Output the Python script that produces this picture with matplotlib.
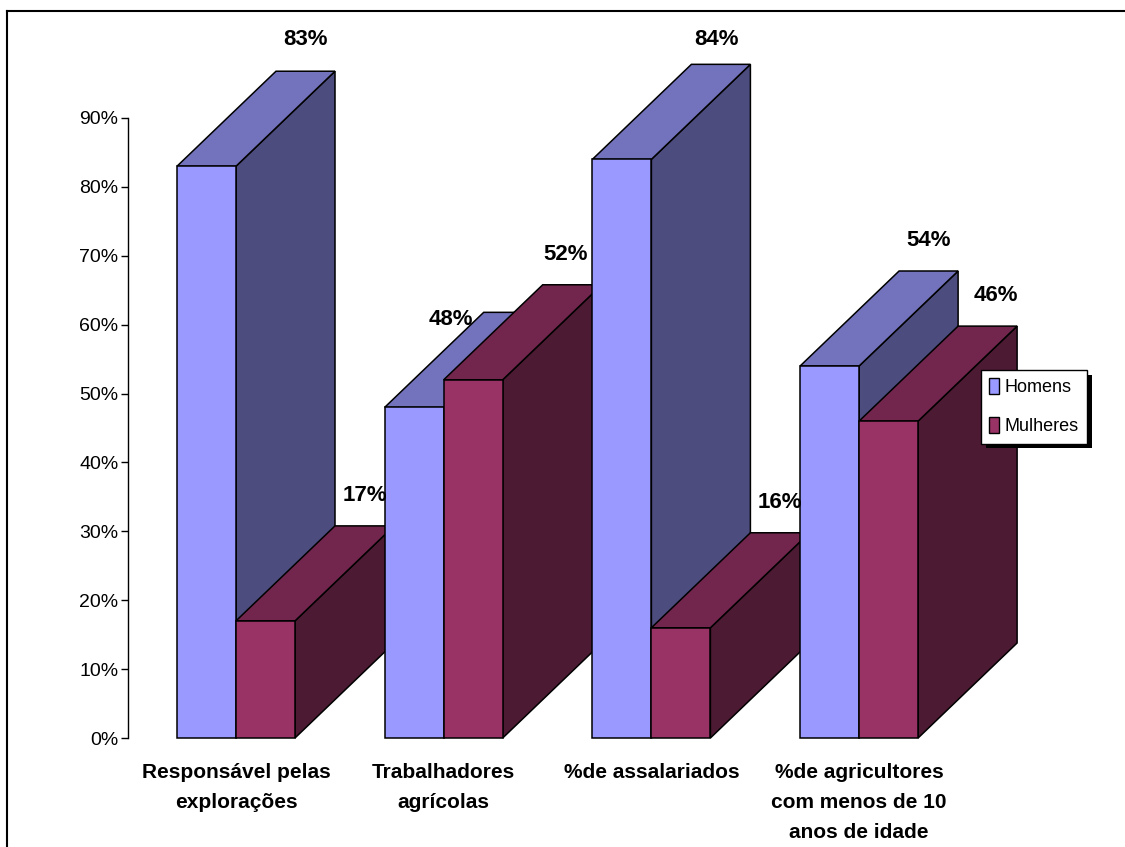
import matplotlib
matplotlib.use("Agg")
import matplotlib.pyplot as plt
from matplotlib.patches import Polygon, Patch
from matplotlib.lines import Line2D
import matplotlib.patheffects as pe

plt.rcParams['font.family'] = ['Liberation Sans', 'DejaVu Sans']

categories = ["Responsável pelas\nexplorações", "Trabalhadores\nagrícolas",
              "%de assalariados", "%de agricultores\ncom menos de 10\nanos de idade"]
homens = [83, 48, 84, 54]
mulheres = [17, 52, 16, 46]
series_names = ["Homens", "Mulheres"]
yticks = [0, 10, 20, 30, 40, 50, 60, 70, 80, 90]

# front / top / side shades
cols_h = ("#9999FF", "#7373BD", "#4C4C7E")
cols_m = ("#993366", "#73264D", "#4D1A33")

W, H = 1125, 847
fig = plt.figure(figsize=(W / 100, H / 100), dpi=100)
ax = fig.add_axes([128 / W, 1 - 738 / H, 912 / W, 620 / H])

step = 207.7                 # px between groups
xmin, xmax = (128 - 236) / step, (1040 - 236) / step
ax.set_xlim(xmin, xmax)
ax.set_ylim(0, 90)
bw = 59 / step               # bar width in data units
dx = 99 / step               # depth offset
dy = 95 / (620 / 90)


def bar3d(x0, h, cols):
    front = [(x0, 0), (x0 + bw, 0), (x0 + bw, h), (x0, h)]
    top = [(x0, h), (x0 + bw, h), (x0 + bw + dx, h + dy), (x0 + dx, h + dy)]
    side = [(x0 + bw, 0), (x0 + bw + dx, dy), (x0 + bw + dx, h + dy), (x0 + bw, h)]
    for pts, c in ((side, cols[2]), (top, cols[1]), (front, cols[0])):
        ax.add_patch(Polygon(pts, closed=True, facecolor=c, edgecolor="black",
                             linewidth=1.1, clip_on=False, joinstyle="miter"))


# label nudges (points), Excel moved a few of them
shift = {(1, 0): (-45, -27), (0, 0): (0, 1), (2, 0): (-3, -4), (3, 1): (6, 0),
         (1, 1): (-5, 0)}
for i in range(len(categories)):
    for j, (vals, cols) in enumerate(((homens, cols_h), (mulheres, cols_m))):
        x0 = i - bw if j == 0 else i
        bar3d(x0, vals[i], cols)
        ox, oy = shift.get((i, j), (0, 0))
        ax.annotate(f"{vals[i]}%", (x0 + bw / 2 + dx, vals[i] + dy),
                    xytext=(ox, 22 + oy), textcoords="offset points",
                    ha="center", va="center", fontsize=16, fontweight="bold",
                    annotation_clip=False)

for s in ("top", "right", "bottom"):
    ax.spines[s].set_visible(False)
ax.spines["left"].set_linewidth(1.0)
ax.set_yticks(yticks)
ax.set_yticklabels([f"{v}%" for v in yticks], fontsize=14)
ax.tick_params(axis="y", length=5, width=1, pad=2)
ax.set_xticks(range(len(categories)))
ax.set_xticklabels(categories, fontsize=15, fontweight="bold", linespacing=1.72,
                   va="top")
ax.tick_params(axis="x", length=0, pad=18)
ax.patch.set_visible(False)

handles = [Patch(facecolor=cols_h[0], edgecolor="black", linewidth=1),
           Patch(facecolor=cols_m[0], edgecolor="black", linewidth=1)]
leg = fig.legend(handles, series_names, loc="upper left",
                 bbox_to_anchor=(981 / W, 1 - 370 / H), fontsize=13,
                 frameon=True, fancybox=False, framealpha=1.0,
                 handlelength=0.55, handleheight=1.0,
                 handletextpad=0.3, labelspacing=1.15, borderpad=0.45,
                 borderaxespad=0)
frame = leg.get_frame()
frame.set_facecolor("white")
frame.set_edgecolor("black")
frame.set_linewidth(1.0)
frame.set_path_effects([pe.SimplePatchShadow(offset=(3.5, -3.5), shadow_rgbFace="black", alpha=1.0),
                        pe.Normal()])

# outer chart border (cut off at right and bottom)
fig.add_artist(Line2D([7 / W, 1], [1 - 11 / H, 1 - 11 / H], color="black", linewidth=1.5))
fig.add_artist(Line2D([7 / W, 7 / W], [0, 1 - 11 / H], color="black", linewidth=1.5))

fig.savefig("out.png", dpi=100)
